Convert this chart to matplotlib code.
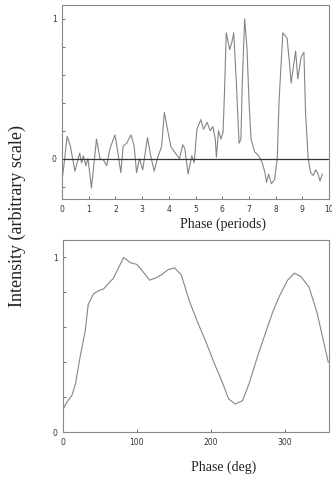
import matplotlib
matplotlib.use("Agg")
from matplotlib import pyplot as plt
import numpy as np

# top panel: intensity vs phase (periods)
phase_periods = [0.0, 0.05, 0.19, 0.31, 0.48, 0.66, 0.73, 0.8, 0.89, 0.97, 1.1,
                 1.29, 1.42, 1.55, 1.67, 1.79, 1.98, 2.07, 2.2, 2.29, 2.42, 2.58,
                 2.7, 2.79, 2.9, 3.02, 3.2, 3.32, 3.45, 3.57, 3.73, 3.83, 3.95,
                 4.07, 4.24, 4.4, 4.52, 4.6, 4.72, 4.86, 4.95, 5.05, 5.2, 5.3,
                 5.43, 5.55, 5.65, 5.74, 5.78, 5.86, 5.95, 6.03, 6.08, 6.15, 6.28,
                 6.37, 6.43, 6.53, 6.63, 6.7, 6.75, 6.84, 6.93, 7.0, 7.08, 7.21,
                 7.37, 7.5, 7.6, 7.66, 7.74, 7.84, 7.96, 8.06, 8.13, 8.27, 8.43,
                 8.53, 8.58, 8.75, 8.83, 8.96, 9.06, 9.12, 9.22, 9.31, 9.41, 9.5,
                 9.59, 9.66, 9.75]
intensity_top = [-0.15, -0.08, 0.16, 0.09, -0.09, 0.04, -0.03, 0.02, -0.05, 0.0, -0.21,
                 0.14, 0.0, -0.01, -0.05, 0.07, 0.17, 0.07, -0.1, 0.09, 0.11, 0.17,
                 0.09, -0.1, 0.0, -0.08, 0.15, 0.02, -0.09, 0.0, 0.09, 0.33, 0.21,
                 0.09, 0.04, 0.0, 0.1, 0.07, -0.11, 0.02, -0.03, 0.21, 0.28, 0.21,
                 0.26, 0.2, 0.23, 0.14, 0.01, 0.2, 0.14, 0.19, 0.45, 0.9, 0.78,
                 0.84, 0.9, 0.54, 0.11, 0.14, 0.54, 1.0, 0.78, 0.42, 0.14, 0.05,
                 0.02, -0.03, -0.1, -0.17, -0.11, -0.18, -0.15, 0.0, 0.42, 0.9, 0.86,
                 0.66, 0.54, 0.77, 0.57, 0.73, 0.76, 0.33, 0.0, -0.1, -0.12, -0.08,
                 -0.11, -0.16, -0.11]

# bottom panel: intensity vs phase (deg)
phase_deg = [0, 5, 12, 17, 23, 30, 34, 41, 48, 55, 61, 68, 75, 82, 91, 100, 106,
             117, 124, 133, 142, 151, 160, 171, 183, 194, 205, 216, 224, 233, 243,
             252, 263, 275, 284, 293, 304, 313, 322, 333, 344, 359]
intensity_bot = [0.13, 0.17, 0.21, 0.28, 0.43, 0.58, 0.73, 0.79, 0.81, 0.82, 0.85,
                 0.88, 0.94, 1.0, 0.97, 0.96, 0.93, 0.87, 0.88, 0.9, 0.93, 0.94,
                 0.9, 0.75, 0.62, 0.51, 0.39, 0.28, 0.19, 0.16, 0.18, 0.28, 0.43,
                 0.58, 0.69, 0.78, 0.87, 0.91, 0.89, 0.83, 0.68, 0.4]

serif = ['Liberation Serif', 'DejaVu Serif']
fig = plt.figure(figsize=(3.32, 4.8), dpi=100)
ax1 = fig.add_axes([0.187, 0.585, 0.804, 0.405])
ax2 = fig.add_axes([0.19, 0.10, 0.801, 0.40])


def style(ax):
    for s in ax.spines.values():
        s.set_linestyle((0, (1, 1)))
        s.set_color('#888888')
        s.set_linewidth(0.8)
    ax.tick_params(direction='in', length=2.5, width=0.6, colors='#555555',
                   labelsize=5.5, labelcolor='#333333', pad=4)


ax1.plot(phase_periods, intensity_top, color='#858585', lw=0.8)
ax1.axhline(0, color='#333333', lw=0.9)
ax1.set_xlim(0, 10)
ax1.set_ylim(-0.29, 1.1)
ax1.set_xticks(range(11))
ax1.set_yticks(np.arange(-0.2, 1.01, 0.2))
ax1.set_yticklabels(['', '0', '', '', '', '', '1'])
style(ax1)

ax2.plot(phase_deg, intensity_bot, color='#858585', lw=0.8)
ax2.set_xlim(0, 360)
ax2.set_ylim(0, 1.1)
ax2.set_xticks([0, 100, 200, 300])
ax2.set_yticks(np.arange(0, 1.01, 0.2))
ax2.set_yticklabels(['0', '', '', '', '', '1'])
style(ax2)

fig.text(0.672, 0.533, 'Phase (periods)', family=serif, fontsize=10,
         ha='center', va='center', color='#222222')
fig.text(0.675, 0.027, 'Phase (deg)', family=serif, fontsize=10,
         ha='center', va='center', color='#222222')
fig.text(0.052, 0.551, 'Intensity (arbitrary scale)', rotation=90, family=serif,
         fontsize=13, ha='center', va='center', color='#222222')

plt.savefig('out.png', dpi=100)
